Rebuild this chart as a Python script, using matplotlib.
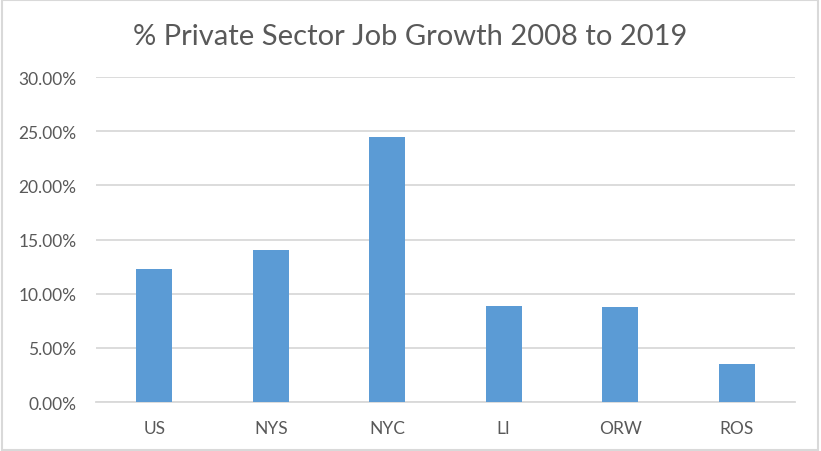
import matplotlib
matplotlib.use("Agg")
import matplotlib.pyplot as plt
from matplotlib.patches import Rectangle
from matplotlib.ticker import FuncFormatter

# Data
regions = ["US", "NYS", "NYC", "LI", "ORW", "ROS"]
growth_pct = [12.3, 14.0, 24.5, 8.85, 8.75, 3.5]
y_ticks = [0, 5, 10, 15, 20, 25, 30]

plt.rcParams['font.family'] = ['Lato', 'DejaVu Sans']

fig = plt.figure(figsize=(8.21, 4.52), dpi=100)
ax = fig.add_axes([0.1169, 0.1084, 0.8514, 0.719])

ax.bar(range(len(regions)), growth_pct, width=0.31, color="#5B9BD5", zorder=3)

ax.set_xlim(-0.5, len(regions) - 0.5)
ax.set_ylim(0, 30)
ax.set_yticks(y_ticks)
ax.yaxis.set_major_formatter(FuncFormatter(lambda v, p: f"{v:.2f}%"))
ax.set_xticks(range(len(regions)))
ax.set_xticklabels(regions)

ax.grid(axis="y", color="#d9d9d9", linewidth=1.3, zorder=0)
for side in ["top", "right", "left"]:
    ax.spines[side].set_visible(False)
ax.spines["bottom"].set_color("#d9d9d9")
ax.spines["bottom"].set_linewidth(1.3)
ax.tick_params(axis="both", length=0, colors="#595959", labelsize=12.5)
ax.tick_params(axis="y", pad=14)
ax.tick_params(axis="x", pad=13)

fig.text(0.5, 0.918, "% Private Sector Job Growth 2008 to 2019",
         ha="center", va="center", fontsize=21, color="#595959")

# light frame around the chart area
fig.patches.append(Rectangle((0.002, 0.003), 0.994, 0.994, transform=fig.transFigure,
                             fill=False, edgecolor="#d9d9d9", linewidth=1.5))

fig.savefig("out.png", dpi=100)
